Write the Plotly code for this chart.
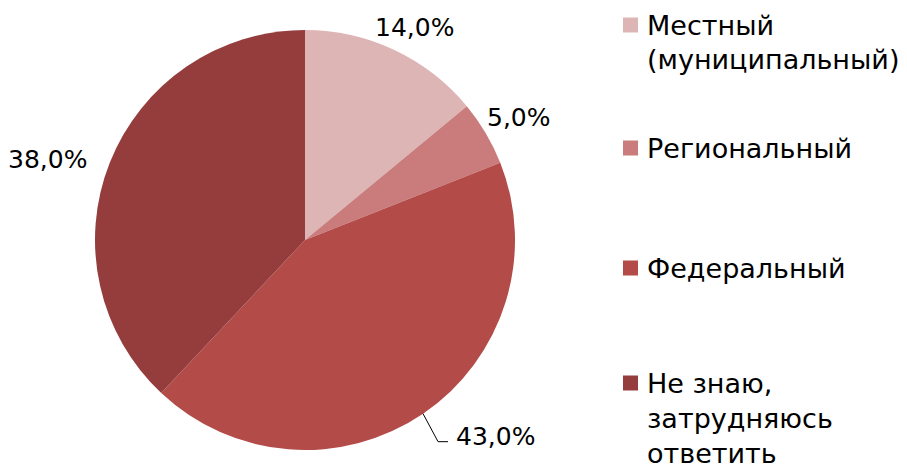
import math
import plotly.graph_objects as go

categories = ["Местный<br>(муниципальный)", "Региональный", "Федеральный", "Не знаю,<br>затрудняюсь<br>ответить"]
values = [14.0, 5.0, 43.0, 38.0]
colors = ["#DEB5B5", "#C97C7B", "#B34B49", "#953D3C"]

W, H = 907, 470
CX, CY, R = 305, 240, 210
FONT = "DejaVu Sans"
FS_LAB = 25
FS_LEG = 27

fig = go.Figure(go.Pie(
    labels=categories, values=values, sort=False, direction="clockwise", rotation=0,
    marker=dict(colors=colors, line=dict(width=0)),
    textinfo="none", hoverinfo="label+percent", showlegend=False,
    domain=dict(x=[(CX - R) / W, (CX + R) / W], y=[(H - CY - R) / H, (H - CY + R) / H]),
))

def px(x, y):
    return x / W, 1 - y / H

# label placement (layout): radial distance (0 = leader line), shifts
lab_r = [238, 246, 0, 262]
lab_shift = [(8, 3), (2, 3), (0, 0), (-14, 16)]

total = sum(values)
cum = 0.0
for i, v in enumerate(values):
    mid = (cum + v / 2) / total
    cum += v
    ang = math.radians(90 - 360 * mid)
    txt = f"{v:.1f}".replace(".", ",") + "%"
    if lab_r[i] > 0:
        x = CX + lab_r[i] * math.cos(ang) + lab_shift[i][0]
        y = CY - lab_r[i] * math.sin(ang) + lab_shift[i][1]
        ax, ay = px(x, y)
        fig.add_annotation(x=ax, y=ay, xref="paper", yref="paper", text=txt, showarrow=False,
                           xanchor="center", yanchor="middle", font=dict(family=FONT, size=FS_LAB, color="#000"))
    else:
        ex = CX + R * math.cos(ang)
        ey = CY - R * math.sin(ang)
        bx, by = ex + 15, ey + 28
        hx = bx + 10
        path = f"M {ex/W} {1-ey/H} L {bx/W} {1-by/H} L {hx/W} {1-by/H}"
        fig.add_shape(type="path", xref="paper", yref="paper", path=path, line=dict(color="#000", width=1))
        ax, ay = px(hx + 6, by - 5)
        fig.add_annotation(x=ax, y=ay, xref="paper", yref="paper", text=txt, showarrow=False,
                           xanchor="left", yanchor="middle", font=dict(family=FONT, size=FS_LAB, color="#000"))

# legend drawn manually
leg_y = [25, 148, 268, 383]
LINE = 35
SQ = 15
for i, cat in enumerate(categories):
    y0 = leg_y[i]
    fig.add_shape(type="rect", xref="paper", yref="paper",
                  x0=623 / W, x1=(623 + SQ) / W, y0=1 - (y0 - SQ / 2) / H, y1=1 - (y0 + SQ / 2) / H,
                  fillcolor=colors[i], line=dict(width=0))
    for j, line in enumerate(cat.split("<br>")):
        ax, ay = px(645, y0 + j * LINE)
        fig.add_annotation(x=ax, y=ay, xref="paper", yref="paper", text=line, showarrow=False,
                           xanchor="left", yanchor="middle", font=dict(family=FONT, size=FS_LEG, color="#000"))

fig.update_layout(width=W, height=H, margin=dict(l=0, r=0, t=0, b=0),
                  paper_bgcolor="white", plot_bgcolor="white")
fig.write_html("out.html", config={"displayModeBar": False},
               post_script="document.body.style.margin='0';document.body.style.padding='0';")
